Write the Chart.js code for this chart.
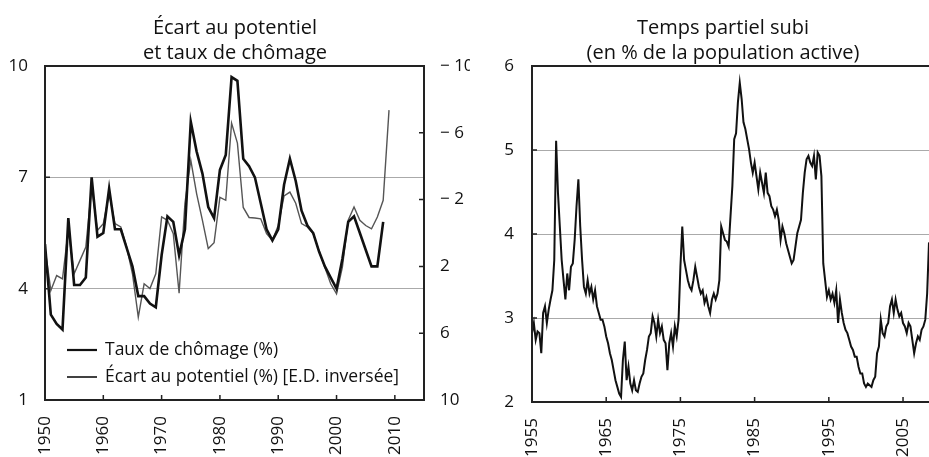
<!DOCTYPE html>
<html><head><meta charset="utf-8">
<script src="https://cdn.jsdelivr.net/npm/chart.js@4.4.0/dist/chart.umd.min.js"></script>
<style>
html,body{margin:0;padding:0;background:#fff;overflow:hidden;width:929px;height:457px}
#g{position:absolute;left:0;top:0}
#d{position:absolute;left:470px;top:0}
</style></head><body>
<canvas id="g" width="470" height="457"></canvas>
<canvas id="d" width="506" height="457"></canvas>
<script>
// panneau de gauche : séries annuelles
const anneesChomage = Array.from({length: 59}, (_, i) => 1950 + i);
const anneesEcart = Array.from({length: 60}, (_, i) => 1950 + i);
const chomage = [5.2,3.3,3.05,2.9,5.9,4.1,4.1,4.3,7.0,5.4,
  5.5,6.7,5.6,5.6,5.1,4.6,3.8,3.8,3.6,3.5,
  4.9,5.95,5.8,4.9,5.6,8.5,7.7,7.1,6.2,5.9,
  7.2,7.6,9.7,9.6,7.5,7.3,7.0,6.3,5.6,5.3,
  5.6,6.8,7.5,6.9,6.1,5.7,5.5,5.0,4.6,4.3,
  4.0,4.8,5.8,5.95,5.5,5.05,4.6,4.6,5.8];
const ecart = [0.89,3.44,2.55,2.75,-0.22,2.44,1.64,0.84,-2.76,-0.16,
  -0.56,-2.36,-0.56,-0.36,0.84,2.44,5.04,3.04,3.33,2.44,
  -0.96,-0.76,0.04,3.6,-1.78,-4.36,-2.36,-0.76,0.93,0.58,
  -2.13,-1.96,-6.58,-5.38,-1.53,-0.93,-0.9,-0.85,0.04,0.44,
  -0.45,-2.22,-2.45,-1.78,-0.56,-0.36,0.04,1.07,2.07,3.04,
  3.64,2.04,-0.76,-1.56,-0.76,-0.45,-0.25,-0.96,-1.96,-7.36];
const ticksAnneesG = [1950,1960,1970,1980,1990,2000,2010];
const ticksChomage = [1,4,7,10];
const ticksEcart = [-10,-6,-2,2,6,10];

// panneau de droite : temps partiel subi, trimestriel depuis 1955
const tpsDebut = 1955;
const tempsPartiel = [
  2.82,2.94,2.74,2.84, 2.82,2.58,3.06,3.14, 2.94,3.10,3.22,3.33, 3.69,5.11,4.49,4.09,
  3.69,3.45,3.22,3.53, 3.33,3.61,3.65,3.93, 4.33,4.65,4.09,3.69, 3.37,3.29,3.45,3.29,
  3.37,3.22,3.33,3.14, 3.06,2.98,2.98,2.90, 2.78,2.70,2.58,2.50, 2.38,2.26,2.18,2.10,
  2.06,2.50,2.72,2.26, 2.42,2.22,2.14,2.26, 2.14,2.12,2.22,2.30, 2.34,2.50,2.62,2.78,
  2.82,3.02,2.94,2.78, 2.98,2.82,2.90,2.74, 2.70,2.38,2.70,2.82, 2.66,2.90,2.78,2.98,
  3.61,4.09,3.69,3.57, 3.45,3.37,3.33,3.45, 3.61,3.49,3.37,3.29, 3.33,3.18,3.25,3.14,
  3.06,3.22,3.29,3.22, 3.29,3.45,4.09,4.01, 3.93,3.91,3.85,4.21, 4.57,5.13,5.20,5.57,
  5.80,5.61,5.33,5.25, 5.13,5.01,4.85,4.73, 4.85,4.69,4.53,4.73, 4.61,4.49,4.73,4.49,
  4.45,4.33,4.29,4.21, 4.29,4.17,3.93,4.09, 4.01,3.89,3.81,3.73, 3.65,3.69,3.85,4.01,
  4.09,4.17,4.49,4.73, 4.89,4.93,4.85,4.81, 4.93,4.65,4.97,4.93, 4.69,3.65,3.45,3.25,
  3.33,3.22,3.29,3.18, 3.33,2.94,3.22,3.06, 2.94,2.86,2.82,2.74, 2.66,2.62,2.54,2.54,
  2.42,2.34,2.34,2.22, 2.18,2.22,2.20,2.18, 2.26,2.30,2.58,2.66, 2.98,2.82,2.78,2.90,
  2.94,3.14,3.22,3.06, 3.22,3.10,3.02,3.06, 2.94,2.90,2.82,2.94, 2.90,2.74,2.58,2.70,
  2.78,2.74,2.86,2.90, 2.98,3.29,3.90];
const ticksAnneesD = [1955,1965,1975,1985,1995,2005];
const ticksTemps = [2,3,4,5,6];

Chart.defaults.font.family = '"Open Sans", sans-serif';
Chart.defaults.font.size = 17;
Chart.defaults.color = '#111';

const fixer = t => s => { s.ticks = t.map(v => ({value: v})); };

// cadre et petites graduations vers l'intérieur
const cadre = {
  id: 'cadre',
  afterDraw(chart, args, o) {
    const {ctx, chartArea: a} = chart;
    ctx.save();
    ctx.strokeStyle = '#222';
    ctx.lineWidth = 1.5;
    ctx.beginPath();
    Object.values(chart.scales).forEach(s => {
      s.ticks.forEach(t => {
        const p = s.getPixelForValue(t.value);
        if (s.axis === 'x') {
          if (p <= a.left + 2 || p >= a.right - 2) return;
          ctx.moveTo(p, a.bottom); ctx.lineTo(p, a.bottom - 5);
        } else {
          if (p <= a.top + 2 || p >= a.bottom - 2) return;
          const x0 = s.position === 'left' ? a.left : a.right;
          const d = s.position === 'left' ? 5 : -5;
          ctx.moveTo(x0, p); ctx.lineTo(x0 + d, p);
        }
      });
    });
    ctx.stroke();
    ctx.lineWidth = 2;
    ctx.beginPath();
    ctx.moveTo(a.right, a.top); ctx.lineTo(a.left, a.top);
    ctx.lineTo(a.left, a.bottom); ctx.lineTo(a.right, a.bottom);
    if (o.ferme) ctx.closePath();
    ctx.stroke();
    ctx.restore();
  }
};

const legende = {
  id: 'legende',
  afterDraw(chart, args, o) {
    if (!o.display) return;
    const {ctx, chartArea: a} = chart;
    ctx.save();
    ctx.font = '17.5px "Open Sans", sans-serif';
    ctx.fillStyle = '#111';
    ctx.textBaseline = 'middle';
    chart.data.datasets.forEach((ds, i) => {
      const y = a.bottom - o.bas + i * o.pas;
      ctx.strokeStyle = '#111';
      ctx.lineWidth = ds.borderWidth > 2 ? 2.2 : 1.6;
      ctx.beginPath();
      ctx.moveTo(a.left + 22, y); ctx.lineTo(a.left + 52, y);
      ctx.stroke();
      ctx.fillText(ds.label, a.left + 60, y);
    });
    ctx.restore();
  }
};

const titre = lignes => ({
  display: true, text: lignes, color: '#111',
  font: {size: 20, weight: 'normal', lineHeight: 25 / 20},
  padding: {top: 16, bottom: 0}
});

const annee = v => String(v);

new Chart(document.getElementById('g'), {
  type: 'line',
  data: { datasets: [
    { label: 'Taux de chômage (%)', data: anneesChomage.map((a, i) => ({x: a, y: chomage[i]})),
      yAxisID: 'y', borderColor: '#111', borderWidth: 2.6, pointRadius: 0, tension: 0 },
    { label: 'Écart au potentiel (%) [E.D. inversée]', data: anneesEcart.map((a, i) => ({x: a, y: ecart[i]})),
      yAxisID: 'y2', borderColor: '#555', borderWidth: 1.4, pointRadius: 0, tension: 0 }
  ] },
  options: {
    responsive: false, animation: false,
    layout: { padding: 0 },
    plugins: {
      legend: { display: false }, tooltip: { enabled: false },
      title: titre(['Écart au potentiel', 'et taux de chômage']),
      cadre: { ferme: true },
      legende: { display: true, bas: 50, pas: 27 }
    },
    scales: {
      x: { type: 'linear', min: 1950, max: 2015, afterBuildTicks: fixer(ticksAnneesG),
        afterFit: s => { s.height = 57; },
        grid: { display: false, drawTicks: false }, border: { display: false },
        ticks: { autoSkip: false, minRotation: 90, maxRotation: 90, padding: 16, callback: annee } },
      y: { position: 'left', min: 1, max: 10, afterBuildTicks: fixer(ticksChomage),
        afterFit: s => { s.width = 45; },
        grid: { color: '#aaa', lineWidth: 1, drawTicks: false }, border: { display: false },
        ticks: { padding: 17 } },
      y2: { position: 'right', min: -10, max: 10, reverse: true, afterBuildTicks: fixer(ticksEcart),
        afterFit: s => { s.width = 46; },
        grid: { display: false, drawTicks: false }, border: { display: false },
        ticks: { padding: 16, callback: v => v < 0 ? '\u2212 ' + Math.abs(v) : String(v) } }
    }
  },
  plugins: [cadre, legende]
});

new Chart(document.getElementById('d'), {
  type: 'line',
  data: { datasets: [
    { label: 'Temps partiel subi', data: tempsPartiel.map((v, i) => ({x: tpsDebut + i / 4, y: v})),
      borderColor: '#111', borderWidth: 2, pointRadius: 0, tension: 0 }
  ] },
  options: {
    responsive: false, animation: false,
    layout: { padding: 0 },
    plugins: {
      legend: { display: false }, tooltip: { enabled: false },
      title: titre(['Temps partiel subi', '(en % de la population active)']),
      cadre: { ferme: false },
      legende: { display: false }
    },
    scales: {
      x: { type: 'linear', min: 1955, max: 2008.5, afterBuildTicks: fixer(ticksAnneesD),
        afterFit: s => { s.height = 55; },
        grid: { display: false, drawTicks: false }, border: { display: false },
        ticks: { autoSkip: false, minRotation: 90, maxRotation: 90, padding: 16, callback: annee } },
      y: { position: 'left', min: 2, max: 6, afterBuildTicks: fixer(ticksTemps),
        afterFit: s => { s.width = 62; },
        grid: { color: '#aaa', lineWidth: 1, drawTicks: false }, border: { display: false },
        ticks: { padding: 18 } },
      // axe vide à droite, hors de la fenêtre
      vide: { position: 'right', afterBuildTicks: fixer([]),
        afterFit: s => { s.width = 47; },
        grid: { display: false, drawTicks: false }, border: { display: false },
        ticks: { display: false } }
    }
  },
  plugins: [cadre, legende]
});
</script>
</body></html>
